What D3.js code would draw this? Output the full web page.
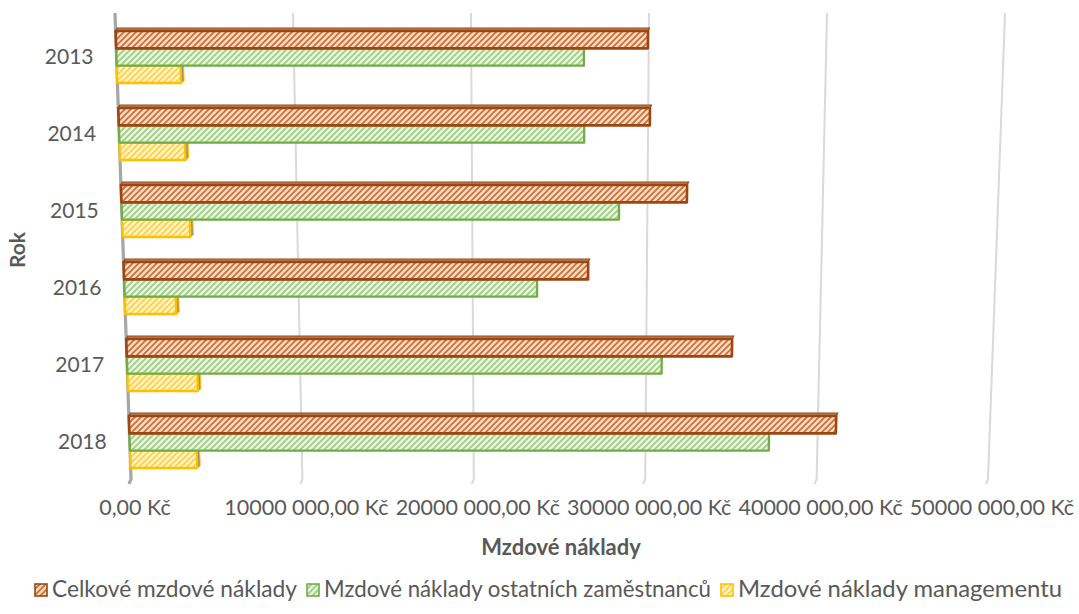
<!DOCTYPE html>
<html>
<head>
<meta charset="utf-8">
<script src="https://cdn.jsdelivr.net/npm/d3@7"></script>
<style>
  html, body { margin: 0; padding: 0; background: #fff; }
  svg { display: block; }
  text { font-family: Lato, "Open Sans", sans-serif; fill: #595959; }
</style>
</head>
<body>
<svg id="chart" width="1079" height="614"></svg>
<script>
// Wage costs per year (CZK)
const categories = ["2013", "2014", "2015", "2016", "2017", "2018"];
const totalCosts = [29950000, 30100000, 32250000, 26630000, 34950000, 41060000];
const staffCosts = [26350000, 26380000, 28380000, 23700000, 30900000, 37180000];
const managementCosts = [3600000, 3720000, 3870000, 2930000, 4050000, 3880000];

const seriesNames = ["Celkové mzdové náklady", "Mzdové náklady ostatních zaměstnanců", "Mzdové náklady managementu"];
const tickValues = [0, 10000000, 20000000, 30000000, 40000000, 50000000];
const tickLabels = ["0,00 Kč", "10000 000,00 Kč", "20000 000,00 Kč", "30000 000,00 Kč", "40000 000,00 Kč", "50000 000,00 Kč"];

const series = [
  { name: seriesNames[0], values: totalCosts, id: "pTotal", bg: "#fcdcc6", hatch: "#cc6d35", border: "#9c4612", bw: 2.6 },
  { name: seriesNames[1], values: staffCosts, id: "pStaff", bg: "#e9f5e1", hatch: "#9fcc82", border: "#70ad47", bw: 2.3 },
  { name: seriesNames[2], values: managementCosts, id: "pMgmt", bg: "#fff4d4", hatch: "#ffd042", border: "#ffc000", bw: 2.3 }
];

const svg = d3.select("#chart");

// Hatched fills ("wide upward diagonal")
const defs = svg.append("defs");
series.forEach(s => {
  const p = defs.append("pattern").attr("id", s.id)
    .attr("patternUnits", "userSpaceOnUse").attr("width", 6).attr("height", 6);
  p.append("rect").attr("width", 6).attr("height", 6).attr("fill", s.bg);
  p.append("path").attr("d", "M-1,1 l2,-2 M0,6 l6,-6 M5,7 l2,-2")
    .attr("stroke", s.hatch).attr("stroke-width", 1.7);
});

// Plot floor/ceiling and a slightly tilted value axis (3-D perspective)
const yTop = 13, yBottom = 479;
const xTopScale = d3.scaleLinear().domain([0, 50000000]).range([115, 1005]);
const xBottomScale = d3.scaleLinear().domain([0, 50000000]).range([131, 988]);
function xAt(v, y) {
  const t = (y - yTop) / (yBottom - yTop);
  return xTopScale(v) * (1 - t) + xBottomScale(v) * t;
}

const y = d3.scaleBand().domain(categories).range([18.5, 480.5])
  .paddingInner(0.325).paddingOuter(0.1625);
const ySub = d3.scaleBand().domain(seriesNames).range([0, y.bandwidth()]);

// Gridlines
const grid = svg.append("g");
tickValues.forEach((v, i) => {
  grid.append("path")
    .attr("d", `M${xAt(v, yTop)},${yTop} L${xAt(v, yBottom)},${yBottom} l-2,5`)
    .attr("fill", "none")
    .attr("stroke", i === 0 ? "#a6a6a6" : "#d9d9d9")
    .attr("stroke-width", i === 0 ? 3.2 : 2);
});

// Bars drawn as perspective quads
const bars = svg.append("g");
const quad = (v, y0, y1) => {
  return `M${xAt(0, y0)},${y0} L${xAt(v, y0)},${y0} L${xAt(v, y1)},${y1} L${xAt(0, y1)},${y1} Z`;
};
categories.forEach((c, ci) => {
  // Draw back-to-front: management, staff, total
  [2, 1, 0].forEach(si => {
    const s = series[si];
    const v = s.values[ci];
    const y0 = y(c) + ySub(s.name);
    const y1 = y0 + ySub.bandwidth();
    if (si === 2) {
      // visible right side face
      const xe0 = xAt(v, y0), xe1 = xAt(v, y1);
      bars.append("path")
        .attr("d", `M${xe0},${y0 + 1} L${xe0 + 3},${y0 - 1} L${xe1 + 3},${y1 - 2} L${xe1},${y1} Z`)
        .attr("fill", "#9a8f7a").attr("stroke", s.border).attr("stroke-width", 1);
    }
    if (si === 0) {
      // visible top face
      const d = 3;
      bars.append("path")
        .attr("d", `M${xAt(0, y0)},${y0} L${xAt(0, y0) + 1.5},${y0 - d} L${xAt(v, y0) + 1.5},${y0 - d} L${xAt(v, y0)},${y0} Z`)
        .attr("fill", "#b3835f").attr("stroke", s.border).attr("stroke-width", 1.2);
    }
    bars.append("path")
      .attr("d", quad(v, y0, y1))
      .attr("fill", `url(#${s.id})`)
      .attr("stroke", s.border).attr("stroke-width", s.bw)
      .attr("stroke-linejoin", "round");
  });
});

// Category labels
svg.append("g").selectAll("text").data(categories).join("text")
  .attr("x", c => xAt(0, y(c) + y.bandwidth() / 2) - 23)
  .attr("y", c => y(c) + y.bandwidth() / 2 + 2)
  .attr("text-anchor", "end").attr("dominant-baseline", "middle")
  .attr("font-size", 21)
  .text(c => c);

// Value tick labels
svg.append("g").selectAll("text").data(tickValues).join("text")
  .attr("x", v => xAt(v, yBottom) + 4)
  .attr("y", 510)
  .attr("text-anchor", "middle").attr("dominant-baseline", "middle")
  .attr("font-size", 21.5)
  .text((v, i) => tickLabels[i]);

// Axis titles
svg.append("text").attr("x", 561).attr("y", 549)
  .attr("text-anchor", "middle").attr("dominant-baseline", "middle")
  .attr("font-size", 22).attr("font-weight", "bold")
  .text("Mzdové náklady");
svg.append("text")
  .attr("transform", "translate(20,250) rotate(-90)")
  .attr("text-anchor", "middle").attr("dominant-baseline", "middle")
  .attr("font-size", 21).attr("font-weight", "bold")
  .text("Rok");

// Legend
const legendX = [34, 306, 720];
const legendTextWidth = [245, 387, 324];
const legend = svg.append("g");
series.forEach((s, i) => {
  const g = legend.append("g").attr("transform", `translate(${legendX[i]},590)`);
  g.append("rect").attr("x", 1).attr("y", -6).attr("width", 12).attr("height", 12)
    .attr("fill", `url(#${s.id})`).attr("stroke", s.border).attr("stroke-width", 1.6);
  g.append("text").attr("x", 18).attr("y", 1)
    .attr("dominant-baseline", "middle").attr("font-size", 23)
    .attr("textLength", legendTextWidth[i]).attr("lengthAdjust", "spacingAndGlyphs")
    .text(s.name);
});
</script>
</body>
</html>
